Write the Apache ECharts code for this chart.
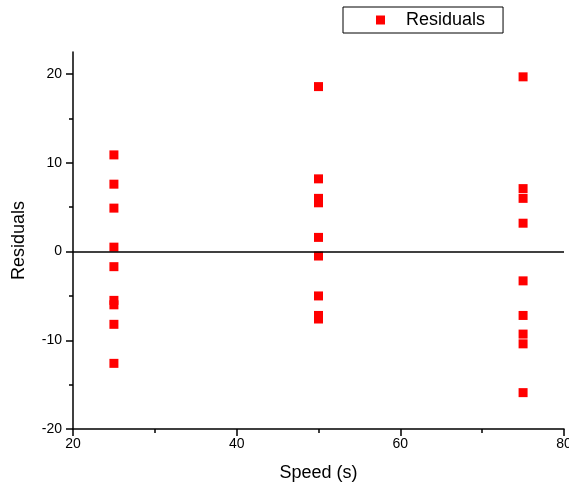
<!DOCTYPE html>
<html>
<head>
<meta charset="utf-8">
<script src="https://cdn.jsdelivr.net/npm/echarts@6/dist/echarts.min.js"></script>
<style>
  html, body { margin: 0; padding: 0; background: #fff; }
  #chart { width: 569px; height: 489px; }
</style>
</head>
<body>
<div id="chart"></div>
<script>
// Residuals of the fit at each tested speed
const speeds = [25, 50, 75];
const residuals25 = [10.9, 7.6, 4.9, 0.5, -1.7, -5.5, -6.0, -8.2, -12.6];
const residuals50 = [18.6, 8.2, 6.0, 5.5, 1.6, -0.5, -5.0, -7.2, -7.6];
const residuals75 = [19.7, 7.1, 6.0, 3.2, -3.3, -7.2, -9.3, -10.4, -15.9];

const yMajorTicks = [-20, -10, 0, 10, 20];
const yMinorTicks = [-15, -5, 5, 15];
const xTicks = [20, 40, 60, 80];

const groups = [residuals25, residuals50, residuals75];
const points = [];
groups.forEach((vals, i) => vals.forEach(v => points.push([speeds[i], v])));

const FONT = 'Liberation Sans, Arial, sans-serif';

const chart = echarts.init(document.getElementById('chart'), null, { renderer: 'canvas' });
chart.setOption({
  animation: false,
  backgroundColor: '#ffffff',
  grid: { left: 73, right: 5, top: 52, bottom: 60, containLabel: false, outerBoundsMode: 'none' },
  legend: {
    left: 343,
    top: 7,
    orient: 'horizontal',
    borderColor: '#000',
    borderWidth: 1,
    padding: [4, 18, 4, 33],
    itemWidth: 9,
    itemHeight: 9,
    icon: 'rect',
    itemStyle: { color: '#ff0000', opacity: 1 },
    textStyle: { fontFamily: FONT, fontSize: 18, color: '#000', padding: [0, 0, 0, 16] },
    data: ['Residuals']
  },
  xAxis: {
    type: 'value',
    min: xTicks[0],
    max: xTicks[xTicks.length - 1],
    interval: 20,
    name: 'Speed (s)',
    nameLocation: 'middle',
    nameGap: 35,
    nameTextStyle: { fontFamily: FONT, fontSize: 18, color: '#000' },
    axisLine: { show: true, onZero: false, lineStyle: { color: '#000', width: 1.5 } },
    axisTick: { show: true, inside: false, length: 7, lineStyle: { color: '#000', width: 1.5 } },
    minorTick: { show: true, splitNumber: 2, length: 4, lineStyle: { color: '#000', width: 1.5 } },
    axisLabel: { fontFamily: FONT, fontSize: 14, color: '#000', margin: 8 },
    splitLine: { show: false }
  },
  yAxis: [
    {
      type: 'value',
      min: -20,
      max: 22.5,
      name: 'Residuals',
      nameLocation: 'middle',
      nameGap: 45,
      nameTextStyle: { fontFamily: FONT, fontSize: 18, color: '#000' },
      axisLine: { show: true, onZero: false, lineStyle: { color: '#000', width: 1.5 } },
      axisTick: { show: true, length: 7, customValues: yMajorTicks, lineStyle: { color: '#000', width: 1.5 } },
      axisLabel: { fontFamily: FONT, fontSize: 14, color: '#000', margin: 11, customValues: yMajorTicks },
      splitLine: { show: false }
    },
    {
      // minor ticks sharing the same scale and position
      type: 'value',
      position: 'left',
      min: -20,
      max: 22.5,
      axisLine: { show: false },
      axisTick: { show: true, length: 4, customValues: yMinorTicks, lineStyle: { color: '#000', width: 1.5 } },
      axisLabel: { show: false },
      splitLine: { show: false }
    }
  ],
  series: [
    {
      name: 'Residuals',
      type: 'scatter',
      symbol: 'rect',
      symbolSize: 9,
      itemStyle: { color: '#ff0000', opacity: 1 },
      data: points,
      markLine: {
        silent: true,
        symbol: ['none', 'none'],
        label: { show: false },
        lineStyle: { color: '#000', width: 1.5, type: 'solid' },
        data: [{ yAxis: 0 }]
      }
    }
  ]
});
</script>
</body>
</html>
